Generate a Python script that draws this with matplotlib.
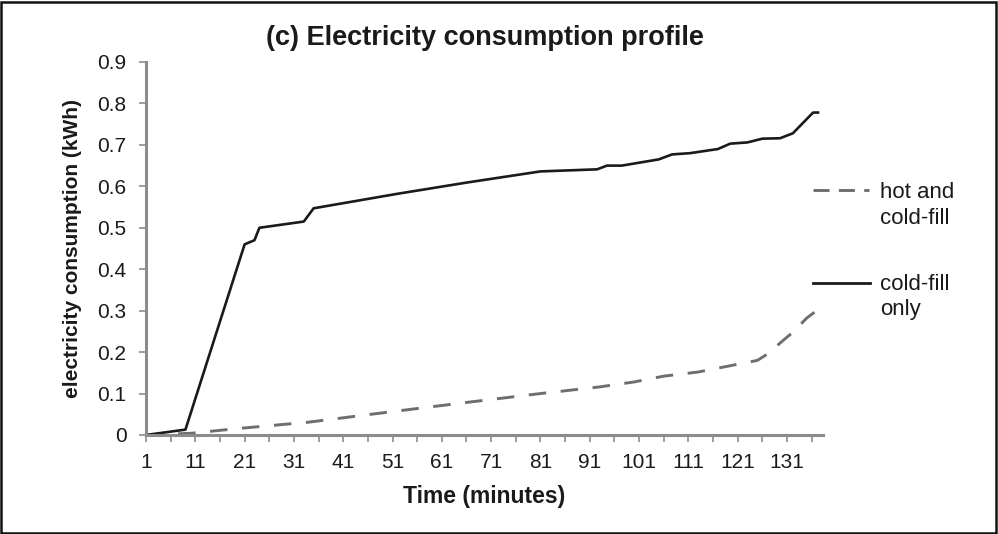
import matplotlib
matplotlib.use("Agg")
import matplotlib.pyplot as plt
from matplotlib.lines import Line2D

plt.rcParams['font.family'] = ['Liberation Sans', 'DejaVu Sans']

# minutes / kWh break points
cold_x = [1, 9, 21, 23, 24, 33, 35, 52, 66, 81, 92.5, 94.5, 97.5, 105, 107.7,
          111.3, 117, 119.5, 123, 126, 129.6, 132.2, 136.3, 137.3]
cold_y = [0, 0.013, 0.46, 0.47, 0.50, 0.515, 0.547, 0.582, 0.609, 0.636, 0.641,
          0.65, 0.65, 0.665, 0.677, 0.68, 0.69, 0.703, 0.706, 0.715, 0.716,
          0.728, 0.778, 0.778]

hot_x = [1, 10, 20, 34, 50, 67, 81, 93, 100, 106, 113, 119, 125, 127, 130.3,
         132.2, 135, 137]
hot_y = [0, 0.004, 0.016, 0.031, 0.055, 0.08, 0.1, 0.116, 0.128, 0.142, 0.152,
         0.166, 0.18, 0.195, 0.229, 0.248, 0.282, 0.30]

xticks = list(range(1, 137, 5))
xlabels = [str(t) if (t - 1) % 10 == 0 else '' for t in xticks]
yticks = [0, 0.1, 0.2, 0.3, 0.4, 0.5, 0.6, 0.7, 0.8, 0.9]

fig = plt.figure(figsize=(9.98, 5.34), dpi=100)
ax = fig.add_axes([0.1463, 0.1854, 0.8246 - 0.1463, 0.8839 - 0.1854])

ax.plot(hot_x, hot_y, color='#6e6e6e', lw=2.1, dashes=(6.0, 5.0))
ax.plot(cold_x, cold_y, color='#1a1a1a', lw=1.9)

ax.set_xlim(1, 138.3)
ax.set_ylim(0, 0.9)
ax.set_xticks(xticks)
ax.set_xticklabels(xlabels)
ax.set_yticks(yticks)
ax.set_yticklabels(['0' if v == 0 else f'{v:.1f}' for v in yticks])

for s in ['top', 'right']:
    ax.spines[s].set_visible(False)
for s in ['left', 'bottom']:
    ax.spines[s].set_color('#8c8c8c')
    ax.spines[s].set_linewidth(2.2)
ax.tick_params(colors='#8c8c8c', width=1.2, length=5, direction='out',
               labelsize=15, labelcolor='#1a1a1a')
ax.tick_params(axis='y', pad=9)
ax.tick_params(axis='x', pad=8)

ax.set_title('(c) Electricity consumption profile', fontsize=19.5,
             fontweight='bold', color='#1a1a1a', pad=12)
ax.set_xlabel('Time (minutes)', fontsize=16.5, fontweight='bold',
              color='#1a1a1a', labelpad=9)
ax.set_ylabel('electricity consumption (kWh)', fontsize=15, fontweight='bold',
              color='#1a1a1a', labelpad=11)

# legend drawn by hand at the right side
W, H = 998.0, 534.0
fig.add_artist(Line2D([813 / W, 869 / W], [1 - 190 / H, 1 - 190 / H],
                      color='#6e6e6e', lw=2.1, dashes=(5.5, 3.2)))
fig.add_artist(Line2D([813 / W, 870 / W], [1 - 283 / H, 1 - 283 / H],
                      color='#1a1a1a', lw=2.0))
for txt, yy in [('hot and', 192), ('cold-fill', 218), ('cold-fill', 284), ('only', 310)]:
    fig.text(880 / W, 1 - yy / H, txt, fontsize=16, color='#1a1a1a',
             va='center', ha='left')

# thin frame around the whole picture
fig.add_artist(plt.Rectangle((0.001, 0.002), 0.997, 0.995, transform=fig.transFigure,
                             fill=False, edgecolor='#111111', lw=1.8))

fig.savefig('out.png', dpi=100)
